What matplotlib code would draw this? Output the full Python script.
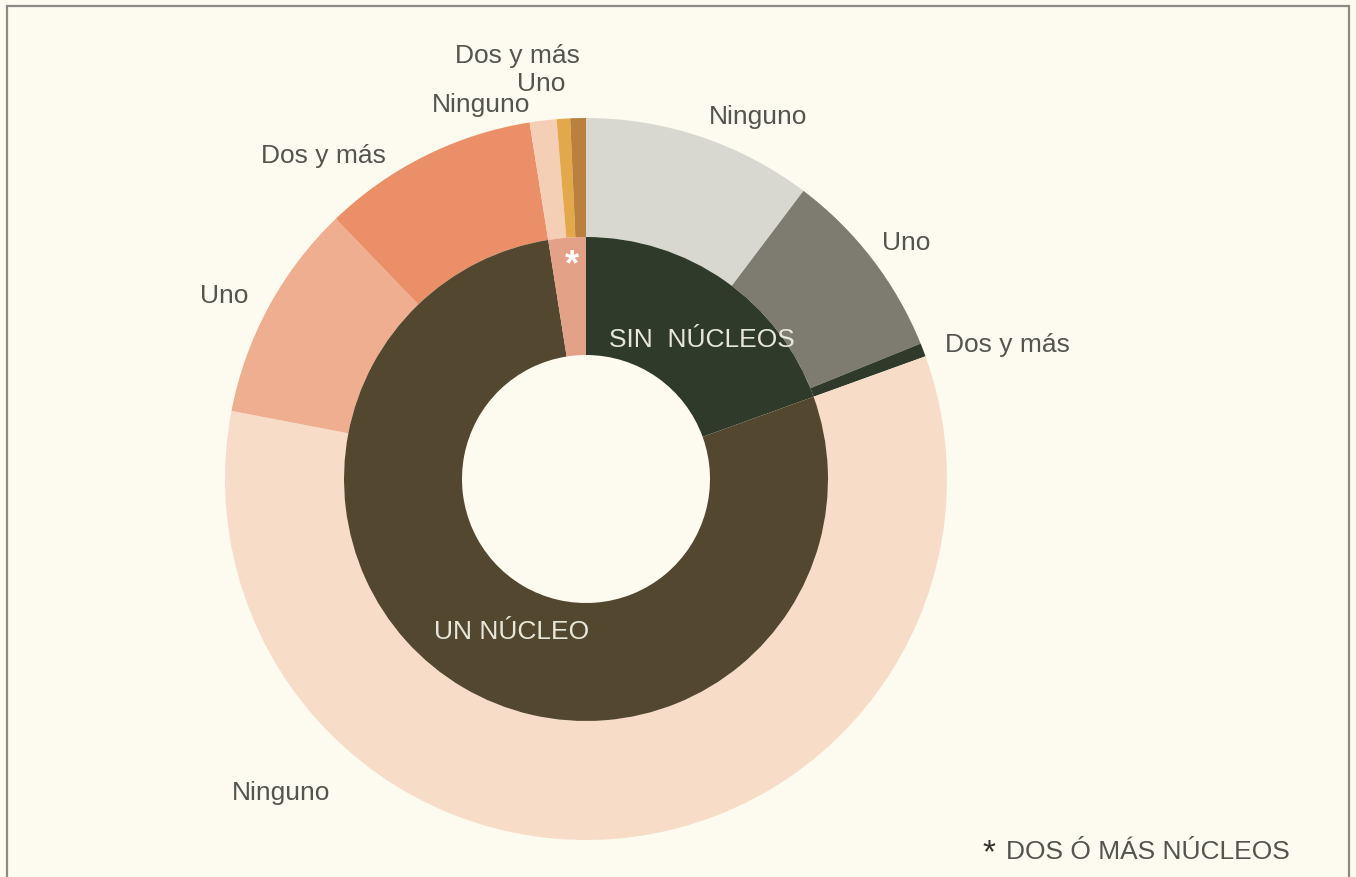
import matplotlib.pyplot as plt
from matplotlib.patches import Rectangle

plt.rcParams['font.family'] = ['Liberation Sans', 'DejaVu Sans']

# grupos (anillo interior) y categorías (anillo exterior), en % del total
groups = ["SIN  NÚCLEOS", "UN NÚCLEO", "*"]
sub_labels = ["Ninguno", "Uno", "Dos y más"]
sin_nucleos = [10.3, 8.6, 0.6]
un_nucleo = [58.6, 9.8, 9.7]
dos_nucleos = [1.2, 0.6, 0.7]

outer_vals = sin_nucleos + un_nucleo + dos_nucleos
inner_vals = [sum(sin_nucleos), sum(un_nucleo), sum(dos_nucleos)]

inner_colors = ["#2f3a2a", "#54472f", "#e3a187"]
outer_colors = ["#d9d8d0", "#7e7c70", "#2f3a2a",
                "#f7ddc8", "#efae8f", "#eb8f68",
                "#f4cfb6", "#e3a84a", "#b9803e"]

W, H = 1356, 878
fig = plt.figure(figsize=(W / 100, H / 100), dpi=100)
fig.patch.set_facecolor("#fdfbef")
ax = fig.add_axes([0, 0, 1, 1])
ax.set_xlim(0, W)
ax.set_ylim(0, H)
ax.set_aspect("equal")
ax.axis("off")

cx, cy = 586, H - 480
ax.pie(outer_vals, radius=361, center=(cx, cy), startangle=90, counterclock=False,
       colors=outer_colors, wedgeprops=dict(width=119, linewidth=0))
ax.pie(inner_vals, radius=242, center=(cx, cy), startangle=90, counterclock=False,
       colors=inner_colors, wedgeprops=dict(width=118, linewidth=0))
ax.set_xlim(0, W)
ax.set_ylim(0, H)

# marco
ax.add_patch(Rectangle((7, -10), 1342, H - 7 + 10, fill=False, edgecolor="#8a8a86", lw=1.6))

fs = 19
txt = dict(color="#555550", fontsize=fs, ha="center", va="center")
label_pos = [(758, 117), (906, 243), (1007, 345),
             (281, 793), (224, 296), (323, 156),
             (481, 105), (541, 84), (517, 56)]
for lab, (x, y) in zip(sub_labels * 3, label_pos):
    ax.text(x, H - y, lab, **txt)

ax.text(702, H - 340, groups[0], color="#e6e6da", fontsize=fs, ha="center", va="center")
ax.text(512, H - 632, groups[1], color="#e6e6da", fontsize=fs, ha="center", va="center")
ax.text(572, H - 266, groups[2], color="white", fontsize=26, ha="center", va="center",
        fontweight="bold")

ax.text(982, H - 854, "*", color="#333330", fontsize=24, ha="left", va="center")
ax.text(1006, H - 852, "DOS Ó MÁS NÚCLEOS", color="#555550", fontsize=fs, ha="left", va="center")

fig.savefig("out.png", dpi=100, facecolor=fig.get_facecolor())
